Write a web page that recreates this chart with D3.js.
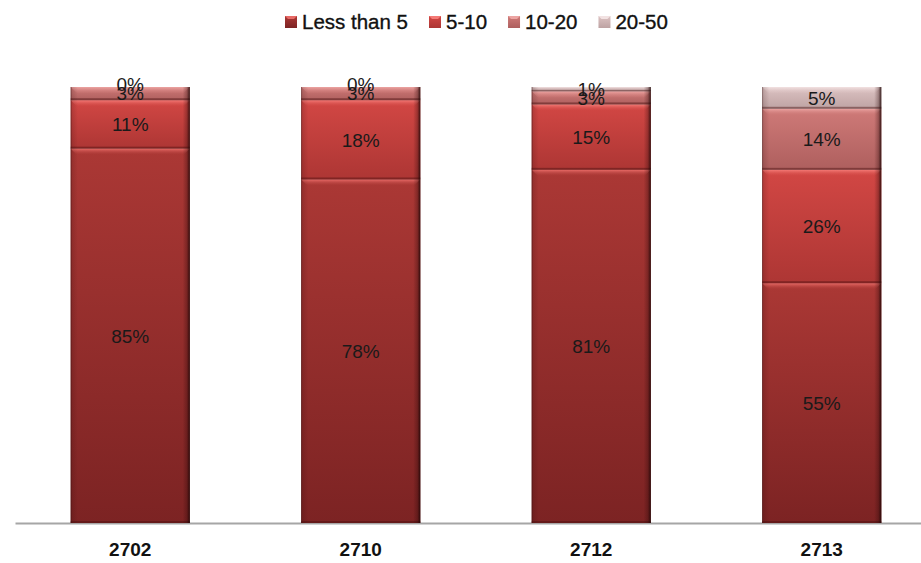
<!DOCTYPE html>
<html>
<head>
<meta charset="utf-8">
<script src="https://cdn.jsdelivr.net/npm/d3@7"></script>
<style>
  html, body { margin: 0; padding: 0; background: #fff; }
  svg { display: block; font-family: "Liberation Sans", Arial, sans-serif; }
</style>
</head>
<body>
<svg id="chart" width="921" height="563"></svg>
<script>
// Categories (site codes) and share of each size class, in percent
const categories = ["2702", "2710", "2712", "2713"];
const seriesNames = ["Less than 5", "5-10", "10-20", "20-50"];
const lessThan5 = [85, 78, 81, 55];
const from5to10 = [11, 18, 15, 26];
const from10to20 = [3, 3, 3, 14];
const from20to50 = [0, 0, 1, 5];

// Fill styles per series: top, bottom and bevel highlight colours
const palette = [
  { top: "#ab3835", bottom: "#7c2323", hi: "#e86a66" },
  { top: "#d24744", bottom: "#ad3634", hi: "#f47a76" },
  { top: "#cf7a78", bottom: "#ae5f5e", hi: "#eca4a2" },
  { top: "#dcc2c2", bottom: "#bea3a3", hi: "#f2e2e2" }
];

const svg = d3.select("#chart");

const rows = categories.map((c, i) => ({
  cat: c,
  "Less than 5": lessThan5[i],
  "5-10": from5to10[i],
  "10-20": from10to20[i],
  "20-50": from20to50[i]
}));

const stack = d3.stack().keys(seriesNames).offset(d3.stackOffsetExpand);
const layers = stack(rows);

const x = d3.scaleBand().domain(categories).range([15, 937])
  .paddingInner(0.483).paddingOuter(0.2415);
const y = d3.scaleLinear().domain([0, 1]).range([523, 87]);

// gradients
const defs = svg.append("defs");
palette.forEach((p, i) => {
  const g = defs.append("linearGradient").attr("id", "fill" + i)
    .attr("x1", 0).attr("y1", 0).attr("x2", 0).attr("y2", 1);
  g.append("stop").attr("offset", "0%").attr("stop-color", p.top);
  g.append("stop").attr("offset", "100%").attr("stop-color", p.bottom);
  const h = defs.append("linearGradient").attr("id", "hi" + i)
    .attr("x1", 0).attr("y1", 0).attr("x2", 0).attr("y2", 1);
  h.append("stop").attr("offset", "0%").attr("stop-color", p.hi).attr("stop-opacity", 1);
  h.append("stop").attr("offset", "100%").attr("stop-color", p.top).attr("stop-opacity", 0.2);
});
const side = defs.append("linearGradient").attr("id", "side")
  .attr("x1", 0).attr("y1", 0).attr("x2", 1).attr("y2", 0);
side.append("stop").attr("offset", "0%").attr("stop-color", "#2a0808").attr("stop-opacity", 0.6);
side.append("stop").attr("offset", "1.2%").attr("stop-color", "#2a0808").attr("stop-opacity", 0.15);
side.append("stop").attr("offset", "6%").attr("stop-color", "#2a0808").attr("stop-opacity", 0);
side.append("stop").attr("offset", "94%").attr("stop-color", "#2a0808").attr("stop-opacity", 0);
side.append("stop").attr("offset", "97.5%").attr("stop-color", "#2a0808").attr("stop-opacity", 0.3);
side.append("stop").attr("offset", "100%").attr("stop-color", "#1a0404").attr("stop-opacity", 0.85);

// x axis (baseline + category labels)
const xAxis = svg.append("g")
  .attr("transform", `translate(0,${y(0)})`)
  .call(d3.axisBottom(x).tickSize(0).tickSizeOuter(0).tickPadding(20));
xAxis.select(".domain").attr("stroke", "#a6a6a6").attr("stroke-width", 2);
xAxis.selectAll("text")
  .attr("font-family", "'Liberation Sans', Arial, sans-serif")
  .attr("font-size", 19).attr("font-weight", "bold").attr("fill", "#111");

// bars
const bw = x.bandwidth();
layers.forEach((layer, si) => {
  const g = svg.append("g");
  layer.forEach(d => {
    const x0 = x(d.data.cat);
    const yTop = y(d[1]), yBot = y(d[0]);
    const h = yBot - yTop;
    if (h <= 0) return;
    g.append("rect").attr("x", x0).attr("y", yTop).attr("width", bw).attr("height", h)
      .attr("fill", `url(#fill${si})`);
    // top bevel
    const bh = Math.min(6, h / 2), inset = 6;
    g.append("path")
      .attr("d", `M${x0},${yTop}L${x0 + bw},${yTop}L${x0 + bw - inset},${yTop + bh}L${x0 + inset},${yTop + bh}Z`)
      .attr("fill", `url(#hi${si})`);
    // darker lower rim
    g.append("rect").attr("x", x0).attr("y", yBot - Math.min(2, h / 3)).attr("width", bw)
      .attr("height", Math.min(2, h / 3)).attr("fill", "#4a1010").attr("opacity", 0.45);
  });
});

// side shading over whole bars
svg.append("g").selectAll("rect").data(categories).join("rect")
  .attr("x", d => x(d)).attr("y", y(1)).attr("width", bw).attr("height", y(0) - y(1))
  .attr("fill", "url(#side)");

// value labels
layers.forEach((layer, si) => {
  const key = seriesNames[si];
  svg.append("g").selectAll("text").data(layer).join("text")
    .attr("x", d => x(d.data.cat) + bw / 2)
    .attr("y", d => (y(d[0]) + y(d[1])) / 2 - (d.data[key] === 0 ? 3 : 0))
    .attr("dy", "0.36em")
    .attr("text-anchor", "middle")
    .attr("font-size", 19).attr("fill", "#1a1a1a")
    .text(d => d.data[key] + "%");
});

// legend
const legend = svg.append("g");
let lx = 285;
seriesNames.forEach((name, i) => {
  const item = legend.append("g").attr("transform", `translate(${lx},0)`);
  item.append("rect").attr("x", 0).attr("y", 16).attr("width", 12).attr("height", 12)
    .attr("fill", `url(#fill${i})`);
  item.append("path").attr("d", "M0,16L12,16L9,19L3,19Z").attr("fill", palette[i].hi);
  const t = item.append("text").attr("x", 17).attr("y", 22).attr("dy", "0.36em")
    .attr("font-size", 20.5).attr("fill", "#111")
    .attr("stroke", "#111").attr("stroke-width", 0.35)
    .text(name);
  lx += 17 + t.node().getComputedTextLength() + 21;
});
</script>
</body>
</html>
